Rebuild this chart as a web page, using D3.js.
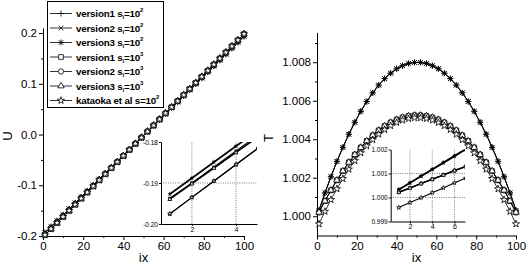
<!DOCTYPE html>
<html>
<head>
<meta charset="utf-8">
<script src="https://cdn.jsdelivr.net/npm/d3@7"></script>
<style>
  body { margin: 0; background: #fff; }
  svg { display: block; font-family: "Liberation Sans", Arial, sans-serif; }
</style>
</head>
<body>
<svg id="chart" width="527" height="266"></svg>
<script>
// ---- data -----------------------------------------------------------
var legendNames = ["version1", "version2", "version3", "version1", "version2", "version3", "kataoka et al"];
var legendExp = ["2", "2", "2", "3", "3", "3", "2"];

var ixMain = [1, 4, 7, 10, 13, 16, 19, 22, 25, 28, 31, 34, 37, 40, 43, 46, 49,
              52, 55, 58, 61, 64, 67, 70, 73, 76, 79, 82, 85, 88, 91, 94, 97, 100];

// U, s=10^2 family
var uS2 = [-0.1935, -0.1818, -0.1701, -0.1584, -0.1466, -0.1349, -0.1232, -0.1114, -0.0997,
           -0.0880, -0.0762, -0.0645, -0.0528, -0.0411, -0.0293, -0.0176, -0.0059,
           0.0059, 0.0176, 0.0293, 0.0411, 0.0528, 0.0645, 0.0762, 0.0880, 0.0997,
           0.1114, 0.1232, 0.1349, 0.1466, 0.1584, 0.1701, 0.1818, 0.1935];
// U, s=10^3 family + kataoka
var uS3 = [-0.198, -0.186, -0.174, -0.162, -0.150, -0.138, -0.126, -0.114, -0.102,
           -0.090, -0.078, -0.066, -0.054, -0.042, -0.030, -0.018, -0.006,
           0.006, 0.018, 0.030, 0.042, 0.054, 0.066, 0.078, 0.090, 0.102,
           0.114, 0.126, 0.138, 0.150, 0.162, 0.174, 0.186, 0.198];

var tS2 = [1.00030, 1.00121, 1.00205, 1.00285, 1.00358, 1.00426, 1.00488, 1.00545, 1.00596,
           1.00641, 1.00681, 1.00715, 1.00743, 1.00766, 1.00782, 1.00794, 1.00799,
           1.00799, 1.00794, 1.00782, 1.00766, 1.00743, 1.00715, 1.00681, 1.00641,
           1.00596, 1.00545, 1.00488, 1.00426, 1.00358, 1.00285, 1.00205, 1.00121, 1.00030];
var tS3 = [1.00020, 1.00079, 1.00135, 1.00187, 1.00235, 1.00280, 1.00320, 1.00357, 1.00391,
           1.00420, 1.00446, 1.00469, 1.00487, 1.00502, 1.00513, 1.00521, 1.00524,
           1.00524, 1.00521, 1.00513, 1.00502, 1.00487, 1.00469, 1.00446, 1.00420,
           1.00391, 1.00357, 1.00320, 1.00280, 1.00235, 1.00187, 1.00135, 1.00079, 1.00020];
var tKat = [0.99960, 1.00025, 1.00086, 1.00142, 1.00195, 1.00244, 1.00288, 1.00329, 1.00365,
            1.00397, 1.00426, 1.00450, 1.00470, 1.00487, 1.00499, 1.00507, 1.00511,
            1.00511, 1.00507, 1.00499, 1.00487, 1.00470, 1.00450, 1.00426, 1.00397,
            1.00365, 1.00329, 1.00288, 1.00244, 1.00195, 1.00142, 1.00086, 1.00025, 0.99960];

// insets
var ixInsetU = [1, 2, 3, 4, 5];
var uInV1S2 = [-0.1926, -0.1887, -0.1848, -0.1809, -0.1770];
var uInV2S2 = [-0.1928, -0.1889, -0.1850, -0.1811, -0.1772];
var uInV3S2 = [-0.1937, -0.1900, -0.1861, -0.1822, -0.1783];
var uInV1S3 = [-0.1939, -0.1901, -0.1863, -0.1825, -0.1787];
var uInV2S3 = [-0.1976, -0.1935, -0.1895, -0.1855, -0.1815];
var uInV3S3 = [-0.1940, -0.1902, -0.1864, -0.1826, -0.1788];
var uInKat  = [-0.1975, -0.1935, -0.1895, -0.1855, -0.1815];

var ixInsetT = [1, 2, 3, 4, 5, 6, 7];
var tInV1S2 = [1.00035, 1.00063, 1.00091, 1.00119, 1.00147, 1.00175, 1.00203];
var tInV2S2 = [1.00031, 1.00059, 1.00087, 1.00115, 1.00143, 1.00171, 1.00199];
var tInV3S2 = [1.00033, 1.00061, 1.00089, 1.00117, 1.00145, 1.00173, 1.00201];
var tInV1S3 = [1.00022, 1.00040, 1.00058, 1.00076, 1.00094, 1.00112, 1.00129];
var tInV2S3 = [1.00023, 1.00041, 1.00059, 1.00077, 1.00095, 1.00113, 1.00130];
var tInV3S3 = [1.00021, 1.00039, 1.00057, 1.00075, 1.00093, 1.00111, 1.00128];
var tInKat  = [0.99958, 0.99979, 0.99999, 1.00020, 1.00040, 1.00061, 1.00081];

var uMainSeries = [uS2, uS2, uS2, uS3, uS3, uS3, uS3];
var tMainSeries = [tS2, tS2, tS2, tS3, tS3, tS3, tKat];
var uInsetSeries = [uInV1S2, uInV2S2, uInV3S2, uInV1S3, uInV2S3, uInV3S3, uInKat];
var tInsetSeries = [tInV1S2, tInV2S2, tInV3S2, tInV1S3, tInV2S3, tInV3S3, tInKat];

// ---- symbols --------------------------------------------------------
var symPlus = { draw: function(c, size) {
  var r = Math.sqrt(size) / 2;
  c.moveTo(-r, 0); c.lineTo(r, 0); c.moveTo(0, -r); c.lineTo(0, r);
}};
var symX = { draw: function(c, size) {
  var r = Math.sqrt(size) / 2 * 0.8;
  c.moveTo(-r, -r); c.lineTo(r, r); c.moveTo(-r, r); c.lineTo(r, -r);
}};
var symAst = { draw: function(c, size) {
  var r = Math.sqrt(size) / 2, q = r * 0.75;
  c.moveTo(-r, 0); c.lineTo(r, 0); c.moveTo(0, -r); c.lineTo(0, r);
  c.moveTo(-q, -q); c.lineTo(q, q); c.moveTo(-q, q); c.lineTo(q, -q);
}};
var markers = [symPlus, symX, symAst, d3.symbolSquare, d3.symbolCircle, d3.symbolTriangle, d3.symbolStar];
var markerSize = [36, 36, 36, 22, 22, 18, 16];

var svg = d3.select("#chart");
var fmt = function(f) { return function(d) { return d3.format(f)(d).replace("\u2212", "-"); }; };

function styleAxis(g, fs) {
  g.select(".domain").attr("stroke", "#000").attr("stroke-width", 1);
  g.selectAll(".tick line").attr("stroke", "#000");
  g.selectAll(".tick text").attr("fill", "#000").attr("font-size", fs)
    .attr("font-family", "'Liberation Sans', Arial, sans-serif");
}

function drawSeries(g, x, y, xs, ys, k, scale, lw) {
  var pts = xs.map(function(d, i) { return [x(d), y(ys[i])]; });
  g.append("path")
    .attr("d", d3.line()(pts))
    .attr("fill", "none").attr("stroke", "#000").attr("stroke-width", lw);
  g.selectAll(null).data(pts).enter().append("path")
    .attr("transform", function(p) { return "translate(" + p[0] + "," + p[1] + ")"; })
    .attr("d", d3.symbol().type(markers[k]).size(markerSize[k] * scale))
    .attr("fill", "#fff").attr("stroke", "#000").attr("stroke-width", 0.8);
}

function drawMain(x, y, yMajor, yMinor, yFmt, series, yLabel, labelX) {
  var g = svg.append("g");
  var bottom = y.range()[0];
  var ax = g.append("g").attr("transform", "translate(0," + bottom + ")")
    .call(d3.axisBottom(x).tickValues([0, 20, 40, 60, 80, 100]).tickSize(4).tickSizeOuter(0).tickPadding(2));
  styleAxis(ax, 11.5);
  var axm = g.append("g").attr("transform", "translate(0," + bottom + ")")
    .call(d3.axisBottom(x).tickValues([10, 30, 50, 70, 90]).tickSize(2).tickSizeOuter(0).tickFormat(""));
  axm.select(".domain").remove();
  styleAxis(axm, 11);
  var left = x.range()[0];
  var ay = g.append("g").attr("transform", "translate(" + left + ",0)")
    .call(d3.axisLeft(y).tickValues(yMajor).tickSize(4).tickSizeOuter(0).tickPadding(2).tickFormat(fmt(yFmt)));
  styleAxis(ay, 11.5);
  var aym = g.append("g").attr("transform", "translate(" + left + ",0)")
    .call(d3.axisLeft(y).tickValues(yMinor).tickSize(2).tickSizeOuter(0).tickFormat(""));
  aym.select(".domain").remove();
  styleAxis(aym, 11);

  series.forEach(function(s, k) { drawSeries(g, x, y, ixMain, s, k, 1, 0.8); });

  g.append("text").attr("x", (x.range()[0] + x.range()[1]) / 2).attr("y", 262)
    .attr("text-anchor", "middle").attr("font-size", 13).text("ix");
  g.append("text").attr("transform", "translate(" + labelX + "," + ((y.range()[0] + y.range()[1]) / 2 + 4) + ") rotate(-90)")
    .attr("text-anchor", "middle").attr("font-size", 13).text(yLabel);
  return g;
}

function drawInset(id, x, y, gridX, gridY, yTicks, yFmt, xTicks, xs, series) {
  var g = svg.append("g");
  var x0 = x.range()[0], x1 = x.range()[1], y0 = y.range()[0], y1 = y.range()[1];
  g.append("rect").attr("x", x0).attr("y", y1).attr("width", x1 - x0).attr("height", y0 - y1).attr("fill", "#fff");
  g.append("clipPath").attr("id", id).append("rect")
    .attr("x", x0).attr("y", y1).attr("width", x1 - x0).attr("height", y0 - y1);
  gridX.forEach(function(v) {
    g.append("line").attr("x1", x(v)).attr("x2", x(v)).attr("y1", y0).attr("y2", y1)
      .attr("stroke", "#444").attr("stroke-width", 0.7).attr("stroke-dasharray", "1,1.3");
  });
  gridY.forEach(function(v) {
    g.append("line").attr("x1", x0).attr("x2", x1).attr("y1", y(v)).attr("y2", y(v))
      .attr("stroke", "#444").attr("stroke-width", 0.7).attr("stroke-dasharray", "1,1.3");
  });
  var gd = g.append("g").attr("clip-path", "url(#" + id + ")");
  series.forEach(function(s, k) { drawSeries(gd, x, y, xs, s, k, 0.35, 1.1); });
  var ax = g.append("g").attr("transform", "translate(0," + y0 + ")")
    .call(d3.axisBottom(x).tickValues(xTicks).tickSize(2).tickSizeOuter(0).tickPadding(1).tickFormat(d3.format("d")));
  styleAxis(ax, 7);
  var ay = g.append("g").attr("transform", "translate(" + x0 + ",0)")
    .call(d3.axisLeft(y).tickValues(yTicks).tickSize(2).tickSizeOuter(0).tickPadding(1).tickFormat(fmt(yFmt)));
  styleAxis(ay, 6.5);
}

// ---- left panel: U --------------------------------------------------
var xU = d3.scaleLinear().domain([0, 100]).range([43, 244]);
var yU = d3.scaleLinear().domain([-0.2, 0.21]).range([236, 28]);
drawMain(xU, yU, [-0.2, -0.1, 0, 0.1, 0.2], [-0.15, -0.05, 0.05, 0.15], ".1f", uMainSeries, "U", 12);

drawInset("clipU",
  d3.scaleLinear().domain([0.6, 4.95]).range([161, 257]),
  d3.scaleLinear().domain([-0.20, -0.18]).range([224, 142]),
  [2, 4], [-0.19], [-0.20, -0.19, -0.18], ".2f", [2, 4], ixInsetU, uInsetSeries);

// ---- right panel: T -------------------------------------------------
var xT = d3.scaleLinear().domain([0, 100]).range([317, 516]);
var yT = d3.scaleLinear().domain([0.999, 1.00955]).range([235.5, 32.4]);
drawMain(xT, yT, [1.000, 1.002, 1.004, 1.006, 1.008], [1.001, 1.003, 1.005, 1.007, 1.009], ".3f", tMainSeries, "T", 273);

drawInset("clipT",
  d3.scaleLinear().domain([0.27, 6.94]).range([390.7, 465]),
  d3.scaleLinear().domain([0.999, 1.002]).range([221.5, 149.5]),
  [2, 4, 6], [1.000, 1.001], [0.999, 1.000, 1.001, 1.002], ".3f", [2, 4, 6], ixInsetT, tInsetSeries);

// ---- legend ---------------------------------------------------------
var lg = svg.append("g");
lg.append("rect").attr("x", 47.5).attr("y", 1.5).attr("width", 116).attr("height", 106)
  .attr("fill", "#fff").attr("stroke", "#000").attr("stroke-width", 1);
legendNames.forEach(function(name, k) {
  var yy = 13.5 + k * 14.5;
  lg.append("line").attr("x1", 50).attr("x2", 72).attr("y1", yy).attr("y2", yy)
    .attr("stroke", "#000").attr("stroke-width", 0.8);
  lg.append("path").attr("transform", "translate(61," + yy + ")")
    .attr("d", d3.symbol().type(markers[k]).size(markerSize[k]))
    .attr("fill", "#fff").attr("stroke", "#000").attr("stroke-width", 0.8);
  var t = lg.append("text").attr("x", 76).attr("y", yy + 3.5).attr("font-size", 9.8)
    .attr("font-weight", "bold").attr("letter-spacing", -0.2);
  if (k < 6) {
    t.append("tspan").text(name + " s");
    t.append("tspan").attr("font-size", 6).attr("dy", 2).text("i");
    t.append("tspan").attr("dy", -2).text("=10");
  } else {
    t.append("tspan").text(name + " s=10");
  }
  t.append("tspan").attr("font-size", 6).attr("dy", -5).text(legendExp[k]);
});
</script>
</body>
</html>
